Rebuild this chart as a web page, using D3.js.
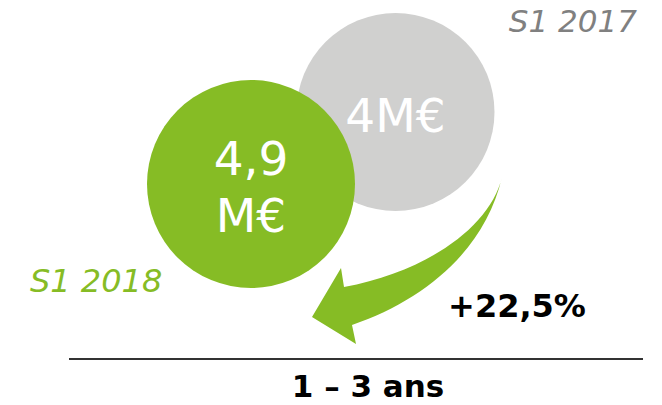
<!DOCTYPE html>
<html>
<head>
<meta charset="utf-8">
<script src="https://cdn.jsdelivr.net/npm/d3@7"></script>
<style>
  body { margin: 0; background: #fff; }
  svg { display: block; }
</style>
</head>
<body>
<div id="chart"></div>
<script>
// data
const periods = ["S1 2017", "S1 2018"];
const values = [4, 4.9];
const valueLabels = [["4M€"], ["4,9", "M€"]];
const growthLabel = "+22,5%";
const axisLabel = "1 – 3 ans";

const width = 662;
const height = 405;
const green = "#86bc25";
const grey = "#d0d0cf";

const svg = d3.select("#chart")
  .append("svg")
  .attr("width", width)
  .attr("height", height);

// circle centres sit on a diagonal, radius follows the value
const x = d3.scalePoint().domain(periods).range([395.5, 251]);
const y = d3.scalePoint().domain(periods).range([112, 184]);
const r = d3.scaleLinear().domain([4, 4.9]).range([99, 104]);

const fills = [grey, green];

const circles = periods.map((p, i) => ({
  period: p, value: values[i], label: valueLabels[i], fill: fills[i]
}));

svg.selectAll("circle")
  .data(circles)
  .enter()
  .append("circle")
  .attr("cx", d => x(d.period))
  .attr("cy", d => y(d.period))
  .attr("r", d => r(d.value))
  .attr("fill", d => d.fill);

// values inside circles
svg.selectAll("text.val")
  .data(circles)
  .enter()
  .append("text")
  .attr("class", "val")
  .attr("text-anchor", "middle")
  .attr("font-family", "DejaVu Sans, Verdana, sans-serif")
  .attr("font-size", 47)
  .attr("fill", "#fff")
  .each(function(d) {
    const t = d3.select(this);
    const n = d.label.length;
    const base = n === 1 ? y(d.period) + 20 : y(d.period) - 9;
    d.label.forEach((line, k) => {
      t.append("tspan")
        .attr("x", x(d.period))
        .attr("y", base + k * 57)
        .text(line);
    });
  });

// period labels
svg.append("text")
  .attr("x", 637)
  .attr("y", 32)
  .attr("text-anchor", "end")
  .attr("font-family", "DejaVu Sans, Verdana, sans-serif")
  .attr("font-style", "italic")
  .attr("font-size", 31)
  .attr("fill", "#808080")
  .text(periods[0]);

svg.append("text")
  .attr("x", 30)
  .attr("y", 292)
  .attr("font-family", "DejaVu Sans, Verdana, sans-serif")
  .attr("font-style", "italic")
  .attr("font-size", 32)
  .attr("fill", green)
  .text(periods[1]);

// curved arrow from 2017 to 2018
const arrow = d3.path();
arrow.moveTo(502, 177);
arrow.bezierCurveTo(490, 228, 425, 272, 344, 287);
arrow.lineTo(341, 268);
arrow.lineTo(312, 317);
arrow.lineTo(356, 344);
arrow.lineTo(352, 325);
arrow.bezierCurveTo(425, 300, 485, 250, 502, 177);
arrow.closePath();

svg.append("path")
  .attr("d", arrow.toString())
  .attr("fill", green);

svg.append("text")
  .attr("x", 517)
  .attr("y", 317)
  .attr("text-anchor", "middle")
  .attr("font-family", "DejaVu Sans, Verdana, sans-serif")
  .attr("font-weight", "bold")
  .attr("font-size", 32)
  .attr("fill", "#000")
  .text(growthLabel);

// baseline and its label
svg.append("line")
  .attr("x1", 69)
  .attr("x2", 643)
  .attr("y1", 359)
  .attr("y2", 359)
  .attr("stroke", "#333")
  .attr("stroke-width", 2);

svg.append("text")
  .attr("x", 368)
  .attr("y", 397)
  .attr("text-anchor", "middle")
  .attr("font-family", "DejaVu Sans, Verdana, sans-serif")
  .attr("font-weight", "bold")
  .attr("font-size", 31)
  .attr("fill", "#000")
  .text(axisLabel);
</script>
</body>
</html>
